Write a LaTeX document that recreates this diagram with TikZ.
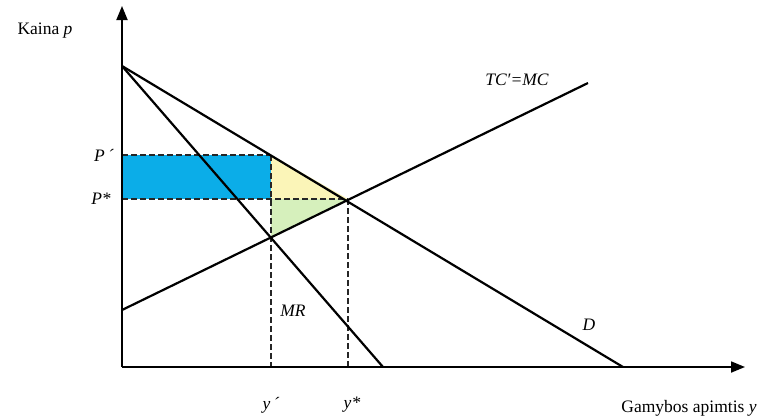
\documentclass[tikz,border=0pt]{standalone}
\usepackage{fontspec}
\setmainfont{Liberation Serif}
\usetikzlibrary{arrows.meta}
\begin{document}
\begin{tikzpicture}[x=1pt,y=-1pt,
  curve/.style={line width=2.2pt,black},
  axis/.style={line width=1.8pt,-{Triangle[length=14pt,width=11pt]}},
  guide/.style={line width=1.3pt,dash pattern=on 6pt off 3pt,black!85},
  lbl/.style={font=\fontsize{17.5}{20}\selectfont,inner sep=1pt}]
\useasboundingbox (0,0) rectangle (760,416);
\definecolor{cblue}{HTML}{0BADE8}
\definecolor{cyel}{HTML}{FBF5B8}
\definecolor{cgreen}{HTML}{D6F0BC}
% key points
\coordinate (O) at (122,367);
\coordinate (A) at (122,66);
\coordinate (Dend) at (623,367);
\coordinate (MRend) at (383,367);
\coordinate (MCs) at (122,310);
\coordinate (MCe) at (588,83);
\coordinate (Ptop) at (122,155);
\coordinate (Pst) at (122,199);
\coordinate (Q1) at (271,155);
\coordinate (Q2) at (271,199);
\coordinate (E) at (348,199);
\coordinate (F) at (271,238);
\coordinate (y1) at (271,367);
\coordinate (y2) at (348,367);
% fills
\fill[cblue] (Ptop) rectangle (Q2);
\fill[cyel] (Q1) -- (Q2) -- (E) -- cycle;
\fill[cgreen] (Q2) -- (E) -- (F) -- cycle;
% guides
\draw[guide] (Ptop) -- (Q1);
\draw[guide] (Pst) -- (E);
\draw[guide] (Q1) -- (y1);
\draw[guide] (E) -- (y2);
% axes
\draw[axis] (O) -- (122,6);
\draw[axis] (O) -- (745,367);
% curves
\draw[curve] (A) -- (Dend);
\draw[curve] (A) -- (MRend);
\draw[curve] (MCs) -- (MCe);
% labels
\node[lbl] (ky) at (45,31) {Kaina \textit{p}};
\node[lbl] (kx) at (689,408) {Gamybos apimtis \textit{y}};
\node[lbl] (lp1) at (104,155) {\textit{P\,´}};
\node[lbl] (lp2) at (101,199) {\textit{P*}};
\node[lbl] (lmc) at (517,80) {\textit{TC′=MC}};
\node[lbl] (lmr) at (293,311) {\textit{MR}};
\node[lbl] (ld) at (589,325) {\textit{D}};
\node[lbl] (ly1) at (271,405) {\textit{y\,´}};
\node[lbl] (ly2) at (352,405) {\textit{y*}};
\end{tikzpicture}
\end{document}
